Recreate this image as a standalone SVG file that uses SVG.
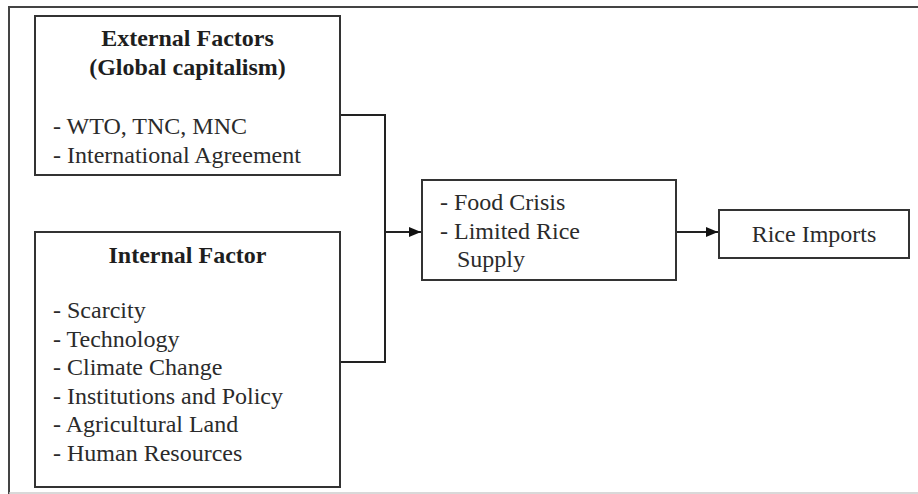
<svg xmlns="http://www.w3.org/2000/svg" width="918" height="494" viewBox="0 0 918 494">
<style>
  .box { fill: #ffffff; stroke: #333333; stroke-width: 2; }
  .frame { fill: none; stroke: #444444; stroke-width: 2; }
  .conn { fill: none; stroke: #222222; stroke-width: 2; }
  text { font-family: 'Liberation Serif', Tinos, 'Times New Roman', Times, 'DejaVu Serif', serif; font-size: 24px; fill: #2b2b2b; }
  .title { font-weight: bold; text-anchor: middle; fill: #1e1e1e; }
  .mid { text-anchor: middle; }
</style>
<defs>
  <marker id="arrow" viewBox="0 0 12 10" refX="12" refY="5" markerWidth="12" markerHeight="10" markerUnits="userSpaceOnUse" orient="auto">
    <path d="M0,0 L12,5 L0,10 Z" fill="#111111"/>
  </marker>
</defs>
<rect x="0" y="0" width="918" height="494" fill="#ffffff"/>
<g id="frame">
  <path class="frame" d="M918,7 L9,7 L9,494"/>
  <line x1="9" y1="493" x2="918" y2="493" stroke="#cccccc" stroke-width="1.5"/>
</g>
<g id="connectors">
  <polyline class="conn" points="340,115 385,115 385,362 340,362"/>
  <line class="conn" x1="385" y1="232" x2="421" y2="232" marker-end="url(#arrow)"/>
  <line class="conn" x1="676" y1="232" x2="718" y2="232" marker-end="url(#arrow)"/>
</g>
<g id="external">
  <rect class="box" x="35" y="16" width="305" height="159"/>
  <text class="title" x="187.5" y="46">External Factors</text>
  <text class="title" x="187.5" y="75">(Global capitalism)</text>
  <text x="53" y="134">- WTO, TNC, MNC</text>
  <text x="53" y="163">- International Agreement</text>
</g>
<g id="internal">
  <rect class="box" x="35" y="232" width="305" height="255"/>
  <text class="title" x="187.5" y="263">Internal Factor</text>
  <text x="53" y="318">- Scarcity</text>
  <text x="53" y="347">- Technology</text>
  <text x="53" y="375">- Climate Change</text>
  <text x="53" y="404">- Institutions and Policy</text>
  <text x="53" y="432">- Agricultural Land</text>
  <text x="53" y="461">- Human Resources</text>
</g>
<g id="crisis">
  <rect class="box" x="422" y="180" width="254" height="100"/>
  <text x="440" y="210">- Food Crisis</text>
  <text x="440" y="239">- Limited Rice</text>
  <text x="457" y="267">Supply</text>
</g>
<g id="imports">
  <rect class="box" x="719" y="210" width="190" height="48"/>
  <text class="mid" x="814" y="242">Rice Imports</text>
</g>
</svg>
